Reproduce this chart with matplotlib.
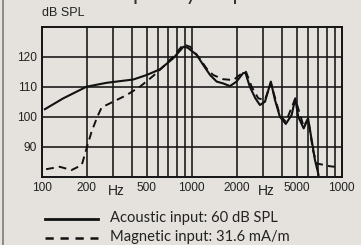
import matplotlib
matplotlib.use('Agg')
import matplotlib.pyplot as plt
from matplotlib.lines import Line2D

# Frequency response data
acoustic_freq = [105, 139, 199, 271, 408, 501, 615, 754, 880, 940, 1080, 1195, 1326, 1468,
                 1620, 1800, 1990, 2200, 2280, 2440, 2660, 2850, 3080, 3370, 3590, 3870,
                 4240, 4640, 4900, 5130, 5580, 5970, 6310, 6630, 7010]
acoustic_db = [102.5, 106.1, 110.0, 111.3, 112.4, 113.9, 115.8, 119.5, 123.3, 123.0, 120.6,
               117.2, 113.9, 111.7, 111.1, 110.2, 111.7, 114.5, 114.7, 110.0, 106.1, 103.9,
               105.0, 111.7, 105.6, 100.0, 97.6, 100.6, 106.1, 100.0, 96.1, 99.4, 92.2, 85.6, 80.6]

magnetic_freq = [107, 132, 158, 185, 199, 215, 235, 251, 300, 368, 452, 554, 647, 771, 880,
                 977, 1130, 1255, 1390, 1620, 1895, 2090, 2300, 2510, 2780, 3080, 3370,
                 3870, 4240, 4900, 5580, 5970, 6430, 6800, 7500, 8300, 9000]
magnetic_db = [82.5, 83.3, 82.2, 83.9, 89.4, 95.0, 100.0, 103.1, 105.0, 107.2, 110.0, 113.6,
               116.7, 120.6, 124.1, 123.3, 119.4, 116.1, 113.9, 112.5, 112.2, 113.9, 115.0,
               110.0, 106.1, 105.6, 111.3, 100.5, 98.3, 106.0, 96.7, 99.4, 88.9, 84.4, 84.0,
               83.5, 83.3]

x_labels = ['100', '200', '500', '1000', '2000', '5000', '1000']
x_label_pos = [100, 200, 500, 1000, 2000, 5000, 10000]
y_ticks = [90, 100, 110, 120]

W, H = 361, 245
bg = '#e5e2dd'
ink = '#222222'


def fx(x):
    return x / W


def fy(y):
    return 1 - y / H


fig = plt.figure(figsize=(W / 100, H / 100), dpi=100, facecolor=bg)
ax = fig.add_axes([fx(41.7), fy(176.7), fx(341.7) - fx(41.7), fy(26.7) - fy(176.7)])
ax.set_facecolor(bg)

ax.plot(acoustic_freq, acoustic_db, color='#111111', lw=1.5, solid_joinstyle='round')
ax.plot(magnetic_freq, magnetic_db, color='#111111', lw=1.4, dashes=(4, 2.6))

ax.set_xscale('log')
ax.set_xlim(100, 10000)
ax.set_ylim(80, 130)

grid_x = [m * d for d in (100, 1000) for m in range(1, 10)][1:]
ax.set_xticks(grid_x, minor=True)
ax.set_xticks(x_label_pos)
ax.set_xticklabels([])
ax.xaxis.set_minor_formatter(plt.NullFormatter())
ax.set_yticks(y_ticks)
ax.set_yticklabels([str(v) for v in y_ticks], fontsize=8.6, family='Liberation Sans', color=ink)
ax.tick_params(axis='both', which='both', length=0, pad=3.5)
ax.grid(True, which='both', color='#141414', lw=1.15)
ax.set_axisbelow(True)
for s in ax.spines.values():
    s.set_color('#141414')
    s.set_linewidth(1.4)

# x tick labels and Hz markers
for pos, lab in zip(x_label_pos, x_labels):
    ax.text(pos, -0.078, lab, transform=ax.get_xaxis_transform(), ha='center', va='center',
            fontsize=8.6, family='Liberation Sans', color=ink)
for pos in (313, 3130):
    ax.text(pos, -0.095, 'Hz', transform=ax.get_xaxis_transform(), ha='center', va='center',
            fontsize=10, family='Liberation Sans', color=ink)

fig.text(fx(41.5), fy(13.3), 'dB SPL', ha='left', va='center', fontsize=9,
         family='Liberation Sans', color=ink)
fig.text(fx(192), fy(0.2), 'Frequency response', ha='center', va='baseline', fontsize=16,
         family='Lato', color='#333333')

# left border
fig.add_artist(Line2D([fx(2.7), fx(2.7)], [0, 1], color='#8a8a8a', lw=1.4))

# legend
fig.add_artist(Line2D([fx(45), fx(98)], [fy(218.5), fy(218.5)], color='#111111', lw=2.0))
fig.add_artist(Line2D([fx(45), fx(98)], [fy(237.7), fy(237.7)], color='#111111', lw=1.8,
                      dashes=(3.3, 2.7)))
fig.text(fx(110), fy(221.7), 'Acoustic input: 60 dB SPL', ha='left', va='baseline',
         fontsize=10.6, family='Lato', color=ink)
fig.text(fx(110), fy(240.7), 'Magnetic input: 31.6 mA/m', ha='left', va='baseline',
         fontsize=10.6, family='Lato', color=ink)

fig.savefig('out.png', dpi=100, facecolor=bg)
